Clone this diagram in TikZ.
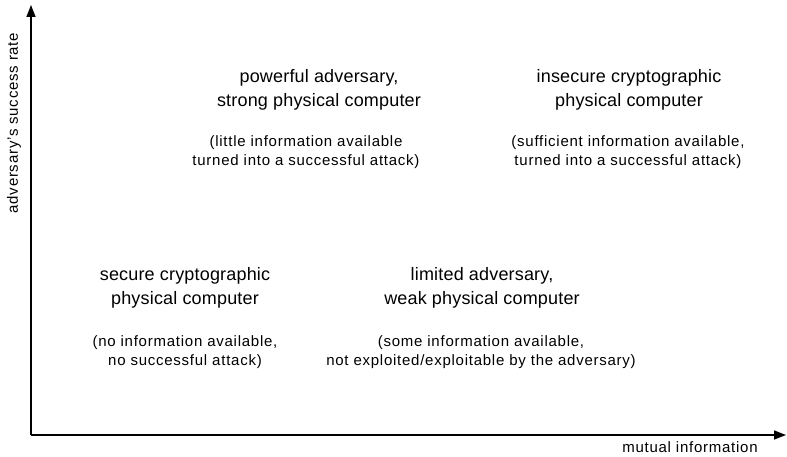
\documentclass[tikz,border=0pt]{standalone}
\usepackage{fontspec}
\setmainfont{Liberation Sans}
\usetikzlibrary{arrows.meta}

\tikzset{
  title/.style={align=center,inner sep=0pt,font=\fontsize{18}{24}\selectfont\addfontfeatures{LetterSpace=1}},
  note/.style={align=center,inner sep=0pt,font=\fontsize{15}{19}\selectfont\addfontfeatures{LetterSpace=5}},
  axis/.style={draw,line width=1.4pt,-{Triangle[length=12pt,width=9pt]}}
}

\begin{document}
\begin{tikzpicture}[x=1pt,y=1pt]
\useasboundingbox (0,0) rectangle (787,456);
\coordinate(origin) at (31,21);
\coordinate(ytip) at (31,451);
\coordinate(xtip) at (786,21);
\path[axis] (origin) -- (ytip);
\path[axis] (origin) -- (xtip);
\node(ylabel)[note,rotate=90] at (14,333){adversary's success rate};
\node(xlabel)[note] at (690,9){mutual information};
% upper half
\node(powerful)[title] at (319,366){powerful adversary,\\strong physical computer};
\node(powerfulnote)[note] at (306,303.5){(little information available\\turned into a successful attack)};
\node(insecure)[title] at (629,366){insecure cryptographic\\physical computer};
\node(insecurenote)[note] at (628,303.5){(sufficient information available,\\turned into a successful attack)};
% lower half
\node(secure)[title] at (185,168){secure cryptographic\\physical computer};
\node(securenote)[note] at (185,103.5){(no information available,\\no successful attack)};
\node(limited)[title] at (482,168){limited adversary,\\weak physical computer};
\node(limitednote)[note] at (481,103.5){(some information available,\\not exploited/exploitable by the adversary)};
\end{tikzpicture}
\end{document}
